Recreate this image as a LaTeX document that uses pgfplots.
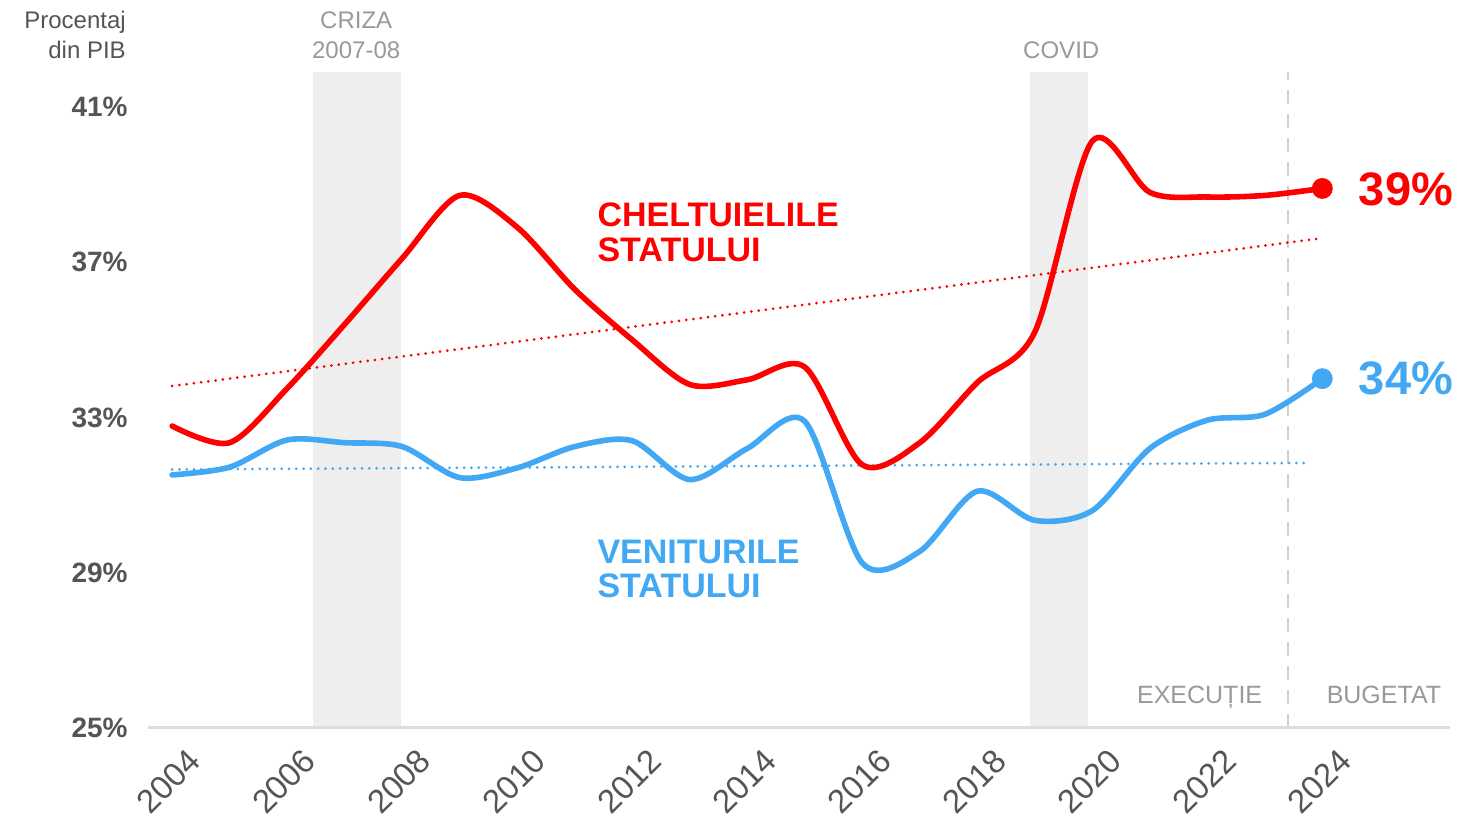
\documentclass[border=0pt]{standalone}
\usepackage{pgfplots}
\pgfplotsset{compat=1.18}
\usepackage{fontspec}
\setmainfont{Liberation Sans}
\definecolor{cred}{HTML}{FF0000}
\definecolor{cblue}{HTML}{42A8F4}
\definecolor{ctick}{HTML}{555555}
\definecolor{clight}{HTML}{999999}
\definecolor{cshade}{HTML}{EEEEEE}
\definecolor{cline}{HTML}{DDDDDD}
\definecolor{cdash}{HTML}{D0D0D0}
\pgfplotstableread{
year red blue
2004 32.78 31.52
2005 32.35 31.72
2006 33.75 32.42
2007 35.40 32.35
2008 37.10 32.25
2009 38.72 31.45
2010 37.90 31.70
2011 36.30 32.25
2012 35.00 32.40
2013 33.85 31.40
2014 33.97 32.20
2015 34.30 32.90
2016 31.78 29.25
2017 32.35 29.55
2018 33.90 31.10
2019 35.20 30.35
2020 40.12 30.60
2021 38.80 32.20
2022 38.68 32.93
2023 38.72 33.08
2024 38.90 34.00
}\datatable
\begin{document}
\begin{tikzpicture}
\path[use as bounding box] (-74pt,-48pt) rectangle (662.5pt,364pt);
\begin{axis}[
  at={(0pt,0pt)}, anchor=south west,
  scale only axis, width=651pt, height=328pt,
  xmin=2003.58, xmax=2026.22, ymin=25, ymax=41.9,
  clip=false, axis on top,
  axis x line*=bottom, axis y line*=left,
  x axis line style={draw=cline, line width=1.5pt, -},
  y axis line style={draw=none},
  major tick length=0pt, tick style={draw=none},
  xtick={2004,2006,...,2024}, ytick={25,29,33,37,41},
  /pgf/number format/assume math mode=true,
  xticklabel style={font=\fontsize{16.5}{16.5}\selectfont, text=ctick,
    /pgf/number format/1000 sep={}, shift={(11.5pt,-13.5pt)}, rotate=45, anchor=east, inner sep=0pt},
  yticklabel={\pgfmathprintnumber{\tick}\%},
  yticklabel style={font=\fontsize{14}{14}\selectfont\bfseries, text=ctick, anchor=east, inner sep=0pt, xshift=-10pt},
]
% shaded periods
\addplot[fill=cshade, draw=none] coordinates {(2006.45,25) (2006.45,41.9) (2007.98,41.9) (2007.98,25)} -- cycle;
\addplot[fill=cshade, draw=none] coordinates {(2018.92,25) (2018.92,41.9) (2019.93,41.9) (2019.93,25)} -- cycle;
% execution / budget separator
\addplot[cdash, line width=1pt, dash pattern=on 7pt off 5pt] coordinates {(2023.41,25) (2023.41,41.9)};
% trend lines
\addplot[cred, line width=1.5pt, line cap=round, dash pattern=on 0pt off 3.65pt] coordinates {(2004,33.81) (2023.9,37.6)};
\addplot[cblue, line width=1.5pt, line cap=round, dash pattern=on 0pt off 3.65pt] coordinates {(2004,31.66) (2023.8,31.83)};
% series
\addplot[cred, line width=2.8pt, smooth, line cap=round] table[x=year, y=red] {\datatable};
\addplot[cblue, line width=2.8pt, smooth, line cap=round] table[x=year, y=blue] {\datatable};
\addplot[only marks, mark=*, mark size=5pt, cred] coordinates {(2024,38.9)};
\addplot[only marks, mark=*, mark size=5pt, cblue] coordinates {(2024,34.0)};
% texts
\node[anchor=base east, text=ctick, font=\fontsize{12}{12}\selectfont, inner sep=0pt] at (axis cs:2003.2,43.01) {Procentaj};
\node[anchor=base east, text=ctick, font=\fontsize{12}{12}\selectfont, inner sep=0pt] at (axis cs:2003.2,42.24) {din PIB};
\node[anchor=base, text=clight, font=\fontsize{12}{12}\selectfont, inner sep=0pt] at (axis cs:2007.2,43.01) {CRIZA};
\node[anchor=base, text=clight, font=\fontsize{12}{12}\selectfont, inner sep=0pt] at (axis cs:2007.2,42.24) {2007-08};
\node[anchor=base, text=clight, font=\fontsize{12}{12}\selectfont, inner sep=0pt] at (axis cs:2019.46,42.24) {COVID};
\node[anchor=base west, text=cred, font=\fontsize{17}{17}\selectfont\bfseries, inner sep=0pt] at (axis cs:2011.39,37.92) {CHELTUIELILE};
\node[anchor=base west, text=cred, font=\fontsize{17}{17}\selectfont\bfseries, inner sep=0pt] at (axis cs:2011.39,37.01) {STATULUI};
\node[anchor=base west, text=cblue, font=\fontsize{17}{17}\selectfont\bfseries, inner sep=0pt] at (axis cs:2011.39,29.25) {VENITURILE};
\node[anchor=base west, text=cblue, font=\fontsize{17}{17}\selectfont\bfseries, inner sep=0pt] at (axis cs:2011.39,28.37) {STATULUI};
\node[anchor=base west, text=cred, font=\fontsize{23.5}{23.5}\selectfont\bfseries, inner sep=0pt] at (axis cs:2024.63,38.47) {39\%};
\node[anchor=base west, text=cblue, font=\fontsize{23.5}{23.5}\selectfont\bfseries, inner sep=0pt] at (axis cs:2024.63,33.58) {34\%};
\node[anchor=base east, text=clight, font=\fontsize{12.5}{12.5}\selectfont, inner sep=0pt] at (axis cs:2022.96,25.64) {EXECUȚIE};
\node[anchor=base west, text=clight, font=\fontsize{12.5}{12.5}\selectfont, inner sep=0pt] at (axis cs:2024.07,25.64) {BUGETAT};
\end{axis}
\end{tikzpicture}
\end{document}
